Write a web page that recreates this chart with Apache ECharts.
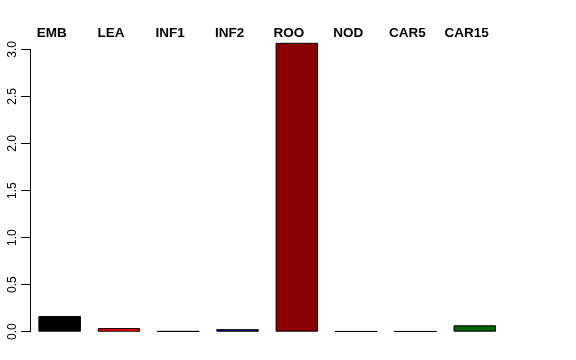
<!DOCTYPE html>
<html><head><meta charset="utf-8">
<script src="https://cdn.jsdelivr.net/npm/echarts@6/dist/echarts.min.js"></script>
<style>html,body{margin:0;padding:0;background:#fff}#c{width:576px;height:360px}</style>
</head><body><div id="c"></div>
<script>
const categories = ['EMB','LEA','INF1','INF2','ROO','NOD','CAR5','CAR15'];
const values = [0.167, 0.038, 0.006, 0.027, 3.07, 0.005, 0.005, 0.068];
const colors = ['#000000','#FF0000','#2E6B3F','#00008B','#8B0000','#5A3A6A','#4A3A5A','#006400'];
const yTicks = [0, 0.5, 1.0, 1.5, 2.0, 2.5, 3.0];

const chart = echarts.init(document.getElementById('c'), null, {renderer:'canvas'});
const font = 'Liberation Sans, Arial, Helvetica, sans-serif';
chart.setOption({
  animation: false,
  backgroundColor: '#fff',
  grid: [
    {left: 30, width: 474.4, top: 40, bottom: 28.3},
    {left: 30, width: 474.4, top: 49.4, bottom: 28.3}
  ],
  xAxis: [
    {type: 'category', gridIndex: 0, data: categories, position: 'top',
     axisLine: {show: false}, axisTick: {show: false},
     axisLabel: {color: '#000', fontWeight: 'bold', fontSize: 13.5, fontFamily: font, margin: 0, padding: [0, 16, 0, 0]}},
    {type: 'category', gridIndex: 1, data: categories, show: false}
  ],
  yAxis: [
    {type: 'value', gridIndex: 0, min: 0, max: 3.1, show: false, splitLine: {show: false}},
    {type: 'value', gridIndex: 1, min: yTicks[0], max: yTicks[yTicks.length-1], interval: 0.5,
     axisLine: {show: true, lineStyle: {color: '#000', width: 1}},
     axisTick: {show: true, length: 9, lineStyle: {color: '#000'}},
     splitLine: {show: false},
     axisLabel: {color: '#000', fontSize: 12, fontFamily: font, rotate: 90, margin: 11,
       formatter: v => v.toFixed(1)}}
  ],
  series: [
    {type: 'bar', xAxisIndex: 0, yAxisIndex: 0, barWidth: 42.5,
     data: values.map((v, i) => ({value: v, itemStyle: {color: colors[i], borderColor: '#000', borderWidth: 1}}))}
  ]
});
</script></body></html>
